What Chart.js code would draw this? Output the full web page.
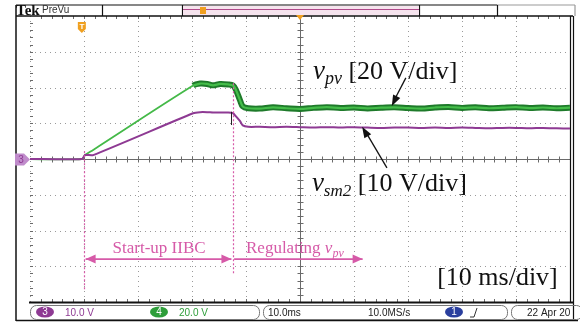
<!DOCTYPE html>
<html>
<head>
<meta charset="utf-8">
<script src="https://cdn.jsdelivr.net/npm/chart.js@4"></script>
<style>
  html, body { margin: 0; padding: 0; background: #fff; }
  canvas { display: block; }
</style>
</head>
<body>
<canvas id="scope" width="580" height="325"></canvas>
<script>
// time axis in ms (10 ms/div, 10 divisions)
const timeMs = [0, 9.6, 10.2, 11.7, 30.2, 31.5, 32.8, 33.9, 35.2, 36.7, 37.6, 38.1, 38.9, 39.4, 40.4,
  42.5, 45, 47.5, 50, 52.5, 55, 57.5, 60, 62.5, 65, 67.5, 70, 72.5, 75, 77.5, 80, 82.5, 85, 87.5, 90, 92.5, 95, 97.5, 100];
// channel 4, v_pv in volts (20 V/div)
const vpv = [0, 0, 2.2, 5.1, 41.1, 42.2, 42.0, 41.2, 42.0, 41.7, 41.1, 38.9, 32.8, 29.4, 28.4,
  28.2, 28.9, 28.4, 28.0, 28.6, 29.0, 28.5, 28.8, 28.3, 28.7, 28.9, 28.5, 28.2, 28.8, 29.1, 28.6,
  28.9, 28.4, 28.7, 29.0, 28.5, 28.8, 28.4, 28.7];
// channel 3, v_sm2 in volts (10 V/div)
const vsm2 = [0, 0, 1.1, 1.1, 12.8, 13.1, 13.1, 13.0, 13.0, 13.0, 12.8, 12.0, 10.6, 9.4, 9.0,
  9.0, 8.9, 9.0, 8.9, 8.8, 8.9, 8.8, 8.9, 8.8, 8.7, 8.8, 8.8, 8.7, 8.8, 8.7, 8.8,
  8.7, 8.6, 8.7, 8.7, 8.6, 8.7, 8.6, 8.5];
// event markers (ms)
const phaseMarks = [10, 37.6];
const phaseLabels = ["Start-up IIBC", "Regulating "];

const serif = '"Liberation Serif", "Times New Roman", serif';
const sans = '"Liberation Sans", Arial, sans-serif';

function toPoints(vals, from) {
  const pts = [];
  for (let i = from || 0; i < timeMs.length; i++) pts.push({ x: timeMs[i], y: vals[i] });
  return pts;
}

function line(ctx, x1, y1, x2, y2) {
  ctx.beginPath(); ctx.moveTo(x1, y1); ctx.lineTo(x2, y2); ctx.stroke();
}

function arrowHead(ctx, x1, y1, x2, y2, len, wid) {
  const a = Math.atan2(y2 - y1, x2 - x1);
  ctx.beginPath();
  ctx.moveTo(x2, y2);
  ctx.lineTo(x2 - len * Math.cos(a) + wid * Math.sin(a), y2 - len * Math.sin(a) - wid * Math.cos(a));
  ctx.lineTo(x2 - len * Math.cos(a) - wid * Math.sin(a), y2 - len * Math.sin(a) + wid * Math.cos(a));
  ctx.closePath(); ctx.fill();
}

// draws runs of text, each with its own font and baseline shift
function richText(ctx, x, y, parts) {
  ctx.textAlign = "left"; ctx.textBaseline = "alphabetic";
  for (const p of parts) {
    ctx.font = p.font;
    ctx.fillText(p.text, x, y + (p.dy || 0));
    x += ctx.measureText(p.text).width;
  }
}

function pill(ctx, cx, cy, w, h, fill, label) {
  ctx.fillStyle = fill;
  ctx.beginPath(); ctx.ellipse(cx, cy, w / 2, h / 2, 0, 0, Math.PI * 2); ctx.fill();
  ctx.fillStyle = "#fff"; ctx.font = "10px " + sans; ctx.textAlign = "center"; ctx.textBaseline = "middle";
  ctx.fillText(label, cx, cy + 0.5);
}

const scopePlugin = {
  id: "scope",
  beforeDatasetsDraw(chart) {
    const ctx = chart.ctx;
    const { left, right, top, bottom } = chart.chartArea;
    const xs = chart.scales.x, ys = chart.scales.y;
    const cx = Math.round(xs.getPixelForValue(50)) + 0.5;
    const cy = Math.round(ys.getPixelForValue(0)) + 0.5;
    const dx = (right - left) / 10, dy = (bottom - top) / 8;
    ctx.save();
    // dotted graticule
    ctx.strokeStyle = "#9a9a9a"; ctx.lineWidth = 1; ctx.setLineDash([1, 4]);
    for (let i = 0; i < 10; i++) {
      if (i === 5) continue;
      const x = Math.round(xs.getPixelForValue(i * 10)) + 0.5;
      line(ctx, x, top, x, bottom);
    }
    for (let j = -3; j <= 3; j++) {
      if (j === 0) continue;
      const y = Math.round(ys.getPixelForValue(j * 20)) + 0.5;
      line(ctx, left, y, right, y);
    }
    ctx.setLineDash([]);
    // centre cross with minor ticks
    ctx.strokeStyle = "#6a6a6a";
    line(ctx, left, cy, right, cy);
    line(ctx, cx, top, cx, bottom);
    for (let k = 1; k < 50; k++) {
      const x = Math.round(left + k * dx / 5) + 0.5;
      line(ctx, x, cy - 3, x, cy + 3);
      line(ctx, x, top, x, top + 3);
      line(ctx, x, bottom - 3, x, bottom);
    }
    for (let k = 1; k < 40; k++) {
      const y = Math.round(top + k * dy / 5) + 0.5;
      line(ctx, cx - 3, y, cx + 3, y);
      line(ctx, left, y, left + 3, y);
    }
    // frame
    ctx.strokeStyle = "#111"; ctx.lineWidth = 1.5;
    line(ctx, 16, 5, 16, 321);
    line(ctx, 16, 320.5, 578, 320.5);
    line(ctx, 16, top, right + 3, top);
    ctx.lineWidth = 2;
    line(ctx, left - 1, bottom + 0.5, right + 3, bottom + 0.5);
    ctx.lineWidth = 1.2;
    line(ctx, right + 0.5, top, right + 0.5, bottom + 1);
    line(ctx, right + 3.5, top, right + 3.5, 321);
    // top record bar
    ctx.lineWidth = 1.2;
    line(ctx, 16, 5, 497, 5);
    ctx.strokeStyle = "#999"; line(ctx, 497, 5, 575, 5); line(ctx, 575, 5, 575, top);
    ctx.strokeStyle = "#111";
    for (const x of [102, 182, 419, 497]) line(ctx, x + 0.5, 5, x + 0.5, top);
    ctx.fillStyle = "#f6e4ee"; ctx.fillRect(183, 6, 236, 9);
    ctx.strokeStyle = "#b04a8a"; ctx.lineWidth = 1;
    line(ctx, 183, 9.5, 419, 9.5);
    ctx.fillStyle = "#111"; ctx.font = "bold 15px " + serif; ctx.textAlign = "left"; ctx.textBaseline = "alphabetic";
    ctx.fillText("Tek", 16, 14.5);
    ctx.fillStyle = "#333"; ctx.font = "10px " + sans;
    ctx.fillText("PreVu", 42, 13);
    // trigger markers
    ctx.fillStyle = "#f0a020";
    ctx.fillRect(200, 7, 6, 7);
    ctx.beginPath(); ctx.moveTo(296, top - 1); ctx.lineTo(304, top - 1); ctx.lineTo(300, top + 4); ctx.closePath(); ctx.fill();
    const tx = xs.getPixelForValue(9.6);
    ctx.beginPath();
    ctx.moveTo(tx - 4, 22); ctx.lineTo(tx + 4, 22); ctx.lineTo(tx + 4, 29); ctx.lineTo(tx, 33); ctx.lineTo(tx - 4, 29);
    ctx.closePath(); ctx.fill();
    ctx.fillStyle = "#fff"; ctx.font = "bold 8px " + sans; ctx.textAlign = "center";
    ctx.fillText("T", tx, 29);
    // channel 3 ground marker
    ctx.fillStyle = "#c08ccb";
    ctx.beginPath();
    ctx.moveTo(15, cy - 6); ctx.lineTo(24, cy - 6); ctx.lineTo(30, cy); ctx.lineTo(24, cy + 6); ctx.lineTo(15, cy + 6);
    ctx.closePath(); ctx.fill();
    ctx.fillStyle = "#8e3a93"; ctx.font = "10px " + sans; ctx.textBaseline = "middle";
    ctx.fillText("3", 21, cy + 0.5);
    // status bar
    ctx.strokeStyle = "#777"; ctx.lineWidth = 1;
    for (const [a, b] of [[30, 259], [263, 507], [511, 582]]) {
      ctx.beginPath(); ctx.roundRect(a + 0.5, 305.5, b - a, 14, 6); ctx.stroke();
    }
    pill(ctx, 45, 312, 18, 11, "#8e3a93", "3");
    pill(ctx, 159, 312, 18, 11, "#2e9e3a", "4");
    pill(ctx, 454, 312, 18, 11, "#2a3f9e", "1");
    ctx.textAlign = "left"; ctx.textBaseline = "middle"; ctx.font = "10px " + sans;
    ctx.fillStyle = "#8e3a93"; ctx.fillText("10.0 V", 65, 313);
    ctx.fillStyle = "#2e9e3a"; ctx.fillText("20.0 V", 179, 313);
    ctx.fillStyle = "#222"; ctx.fillText("10.0ms", 268, 313);
    ctx.fillText("10.0MS/s", 368, 313);
    ctx.fillText("22 Apr 20", 527, 313);
    ctx.strokeStyle = "#333";
    line(ctx, 470, 317, 474, 317); line(ctx, 474, 317, 477, 308);
    ctx.restore();
  },
  afterDatasetsDraw(chart) {
    const ctx = chart.ctx;
    const xs = chart.scales.x, ys = chart.scales.y;
    const px = t => xs.getPixelForValue(t);
    const py = d => ys.getPixelForValue(d * 20);
    ctx.save();
    // small probe glitch on v_sm2
    ctx.strokeStyle = "#222"; ctx.lineWidth = 1;
    line(ctx, Math.round(px(37.3)) + 0.5, py(1.32), Math.round(px(37.3)) + 0.5, py(0.95));
    // phase markers
    const pink = "#d65aa8";
    ctx.strokeStyle = pink; ctx.fillStyle = pink; ctx.lineWidth = 1.2; ctx.setLineDash([2, 2]);
    line(ctx, Math.round(px(phaseMarks[0])) + 0.5, py(0.22), Math.round(px(phaseMarks[0])) + 0.5, py(-3.7));
    line(ctx, Math.round(px(phaseMarks[1])) + 0.5, py(2.12), Math.round(px(phaseMarks[1])) + 0.5, py(-3.25));
    ctx.setLineDash([]);
    const ay = py(-2.8);
    ctx.lineWidth = 1.8;
    line(ctx, px(10.3), ay, px(37.3), ay);
    arrowHead(ctx, px(37.3), ay, px(10.3), ay, 10, 4.5);
    arrowHead(ctx, px(10.3), ay, px(37.3), ay, 10, 4.5);
    line(ctx, px(37.8), ay, px(61.6), ay);
    arrowHead(ctx, px(37.8), ay, px(61.6), ay, 10, 4.5);
    ctx.textAlign = "center"; ctx.font = "17px " + serif;
    ctx.fillText(phaseLabels[0], px(23.9), py(-2.62));
    richText(ctx, px(40), py(-2.62), [
      { text: phaseLabels[1], font: "17px " + serif },
      { text: "v", font: "italic 17px " + serif },
      { text: "pv", font: "italic 12px " + serif, dy: 4 }
    ]);
    // trace labels
    ctx.fillStyle = "#111";
    richText(ctx, px(52.4), py(2.24), [
      { text: "v", font: "italic 27px " + serif },
      { text: "pv", font: "italic 18px " + serif, dy: 5 },
      { text: " [20 V/div]", font: "26px " + serif }
    ]);
    richText(ctx, px(52.2), py(-0.9), [
      { text: "v", font: "italic 27px " + serif },
      { text: "sm2", font: "italic 17px " + serif, dy: 5 },
      { text: " [10 V/div]", font: "26px " + serif }
    ]);
    richText(ctx, px(75.4), py(-3.53), [
      { text: "[10 ms/div]", font: "26px " + serif }
    ]);
    ctx.strokeStyle = "#111"; ctx.lineWidth = 1.3;
    line(ctx, px(69.6), py(2.27), px(67.3), py(1.6));
    arrowHead(ctx, px(69.6), py(2.27), px(67.0), py(1.48), 11, 4);
    line(ctx, px(66.1), py(-0.25), px(62.0), py(0.8));
    arrowHead(ctx, px(66.1), py(-0.25), px(61.5), py(0.9), 11, 4);
    ctx.restore();
  }
};

const thickFrom = 30;
new Chart(document.getElementById("scope").getContext("2d"), {
  type: "line",
  data: {
    datasets: [
      {
        label: "v_sm2",
        data: toPoints(vsm2),
        yAxisID: "y2",
        borderColor: "#8e3a93",
        borderWidth: 2,
        tension: 0.2
      },
      {
        label: "v_pv core",
        data: toPoints(vpv, 4),
        yAxisID: "y",
        borderColor: "#45bd4a",
        borderWidth: 2.2,
        tension: 0.3
      },
      {
        label: "v_pv",
        data: toPoints(vpv),
        yAxisID: "y",
        borderColor: "#1e7a2a",
        borderWidth: 6,
        tension: 0.3,
        segment: {
          borderWidth: c => (c.p0.parsed.x >= thickFrom ? 6 : 1.8),
          borderColor: c => (c.p0.parsed.x >= thickFrom ? "#1e7a2a" : "#44b948")
        }
      }
    ]
  },
  options: {
    responsive: false,
    animation: false,
    devicePixelRatio: 1,
    layout: { padding: { left: 30, right: 10, top: 16, bottom: 23 } },
    elements: { point: { radius: 0 } },
    plugins: { legend: { display: false }, tooltip: { enabled: false } },
    scales: {
      x: { type: "linear", min: 0, max: 100, display: false },
      y: { min: -80, max: 80, display: false },
      y2: { min: -40, max: 40, display: false }
    }
  },
  plugins: [scopePlugin]
});
</script>
</body>
</html>
